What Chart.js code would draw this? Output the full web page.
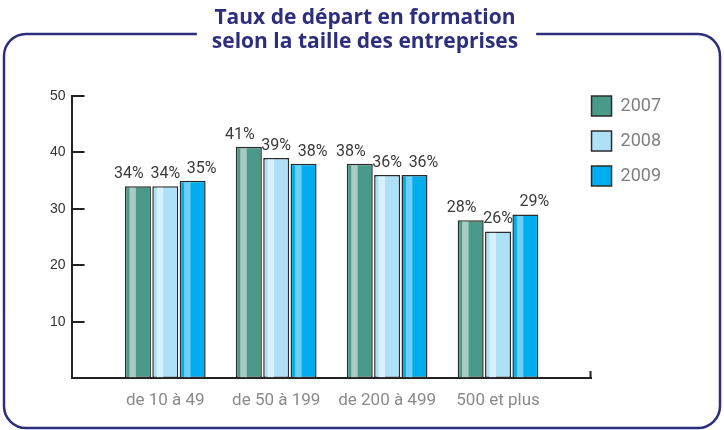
<!DOCTYPE html>
<html>
<head>
<meta charset="utf-8">
<script src="https://cdn.jsdelivr.net/npm/chart.js@4.4.0/dist/chart.umd.min.js"></script>
<style>
  html, body { margin: 0; padding: 0; background: #fff; }
</style>
</head>
<body>
<canvas id="formation" width="724" height="430"></canvas>
<script>
// data
var categories = ["de 10 à 49", "de 50 à 199", "de 200 à 499", "500 et plus"];
var years = ["2007", "2008", "2009"];
var taux2007 = [34, 41, 38, 28];
var taux2008 = [34, 39, 36, 26];
var taux2009 = [35, 38, 36, 29];
var yTicks = [10, 20, 30, 40, 50];
var titleLines = ["Taux de départ en formation", "selon la taille des entreprises"];

var navy = '#2d2f7c';
var fills = ['#4a9a8a', '#aee0f8', '#00aeef'];
var stripes = ['#a9cbc3', '#d6f0fc', '#6fd0f6'];

function points(values) {
	return values.map(function (v, i) { return { x: i, y: v }; });
}

// rounded frame with a gap for the title
var framePlugin = {
	id: 'frame',
	beforeDraw: function (chart) {
		var ctx = chart.ctx;
		var tb = chart.titleBlock;
		var cx = (tb.left + tb.right) / 2;
		ctx.save();
		ctx.font = 'bold 21px "Open Sans"';
		var w = Math.max(ctx.measureText(titleLines[0]).width, ctx.measureText(titleLines[1]).width);
		var gapL = cx - w / 2 - 15, gapR = cx + w / 2 + 18;
		var l = 4, t = 34, r = 720, b = 428, rad = 22;
		ctx.strokeStyle = navy;
		ctx.lineWidth = 2.5;
		ctx.beginPath();
		ctx.moveTo(gapR, t);
		ctx.arcTo(r, t, r, b, rad);
		ctx.arcTo(r, b, l, b, rad);
		ctx.arcTo(l, b, l, t, rad);
		ctx.arcTo(l, t, r, t, rad);
		ctx.lineTo(gapL, t);
		ctx.stroke();
		ctx.restore();
	}
};

// light stripe in each bar + value labels (outer labels pushed outward a bit)
var barDecor = {
	id: 'barDecor',
	afterDatasetsDraw: function (chart) {
		var ctx = chart.ctx;
		var n = chart.data.datasets.length;
		ctx.save();
		chart.data.datasets.forEach(function (ds, di) {
			chart.getDatasetMeta(di).data.forEach(function (el, i) {
				var left = el.x - el.width / 2;
				ctx.fillStyle = stripes[di];
				ctx.fillRect(left + el.width * 0.17, el.y + 1.5, el.width * 0.25, el.base - el.y - 2.5);
				ctx.fillStyle = '#3a3a3a';
				ctx.font = '16px Roboto';
				ctx.textAlign = 'center';
				ctx.textBaseline = 'alphabetic';
				ctx.fillText(ds.data[i].y + '%', el.x + (di - (n - 1) / 2) * 9, el.y - 8);
			});
		});
		ctx.restore();
	}
};

// inward ticks on the y axis, end tick on the x axis
var axisTicks = {
	id: 'axisTicks',
	afterDraw: function (chart) {
		var ctx = chart.ctx, area = chart.chartArea, y = chart.scales.y;
		ctx.save();
		ctx.strokeStyle = '#222';
		ctx.lineWidth = 2;
		ctx.beginPath();
		yTicks.forEach(function (v) {
			var py = Math.round(y.getPixelForValue(v));
			ctx.moveTo(area.left, py);
			ctx.lineTo(area.left + 13, py);
		});
		ctx.moveTo(area.right - 1, area.bottom);
		ctx.lineTo(area.right - 1, area.bottom - 7);
		ctx.stroke();
		ctx.restore();
	}
};

// legend boxes start at the chart area edge
var legendShift = {
	id: 'legendShift',
	afterLayout: function (chart) {
		var lg = chart.legend;
		var p = lg.options.labels.padding;
		lg.left -= p; lg.right -= p;
		lg.top -= p; lg.bottom -= p;
	}
};

var ctx = document.getElementById("formation").getContext("2d");
var chart = new Chart(ctx, {
	type: 'bar',
	data: {
		datasets: [taux2007, taux2008, taux2009].map(function (vals, k) {
			return {
				label: years[k],
				data: points(vals),
				backgroundColor: fills[k],
				borderColor: '#2b2b2b',
				borderWidth: 1.5,
				borderSkipped: false,
				categoryPercentage: 0.74,
				barPercentage: 0.95
			};
		})
	},
	options: {
		responsive: false,
		animation: false,
		devicePixelRatio: 1,
		layout: { padding: { left: 44, right: 38, top: 0, bottom: 7.5 } },
		plugins: {
			title: {
				display: true,
				text: titleLines,
				color: navy,
				font: { family: 'Open Sans', size: 21, weight: 'bold', lineHeight: 1.143 },
				padding: { top: 6, bottom: 42 }
			},
			legend: {
				position: 'right',
				align: 'start',
				fullSize: false,
				labels: {
					boxWidth: 20,
					boxHeight: 20,
					padding: 15,
					color: '#808080',
					font: { family: 'Roboto', size: 18 }
				}
			},
			tooltip: { enabled: false }
		},
		scales: {
			x: {
				type: 'linear',
				min: -0.845,
				max: 3.843,
				offset: false,
				grid: { display: false, drawTicks: false, offset: false },
				border: { color: '#222', width: 2 },
				afterBuildTicks: function (scale) {
					scale.ticks = categories.map(function (c, i) { return { value: i }; });
				},
				ticks: {
					autoSkip: false,
					maxRotation: 0,
					padding: 12,
					color: '#8a8a8a',
					font: { family: 'Roboto', size: 17 },
					callback: function (v) { return categories[v]; }
				}
			},
			y: {
				min: 0,
				max: 50,
				grid: { display: false, drawTicks: false },
				border: { color: '#222', width: 2 },
				ticks: {
					stepSize: 10,
					padding: 6,
					color: '#333',
					font: { family: 'Liberation Sans', size: 14 },
					callback: function (v) { return v === 0 ? '' : v; }
				}
			}
		}
	},
	plugins: [framePlugin, barDecor, axisTicks, legendShift]
});
</script>
</body>
</html>
